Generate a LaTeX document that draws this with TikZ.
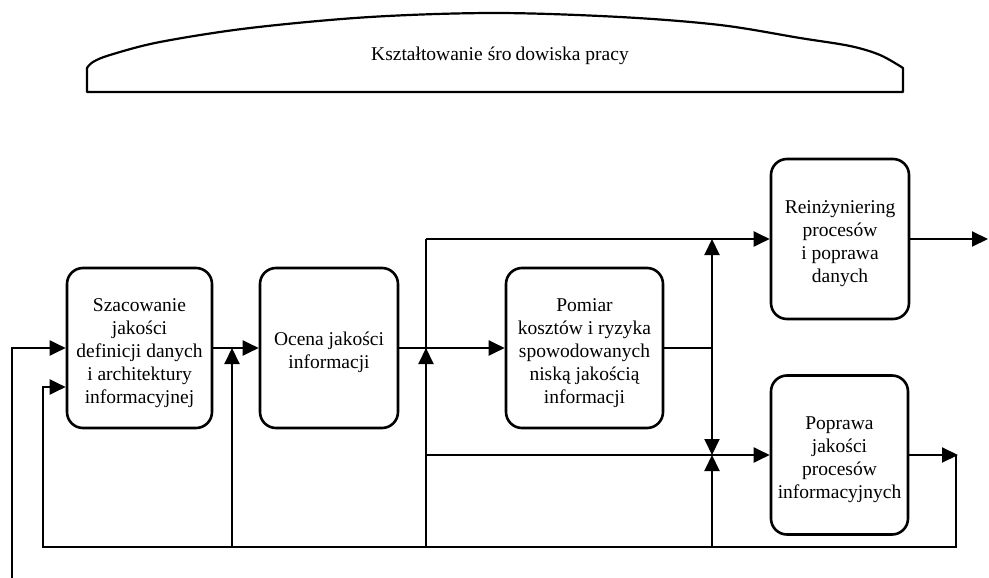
\documentclass[tikz,border=0pt]{standalone}
\usepackage{fontspec}
\setmainfont{Liberation Serif}
\usetikzlibrary{arrows.meta}
\newcommand{\toppad}{\rule{0pt}{23pt}}
\begin{document}
\begin{tikzpicture}[x=1pt,y=-1pt,
  proc/.style={draw, line width=2.6pt, rounded corners=16pt, align=center,
    font=\fontsize{19.5}{23}\selectfont, inner sep=0pt},
  conn/.style={line width=2pt},
  arr/.style={line width=2pt, -{Triangle[length=16pt,width=15pt]}},
  txt/.style={font=\fontsize{19.5}{23}\selectfont}]
\useasboundingbox (0,0) rectangle (989,578);

% top banner
\draw[line width=2.2pt, line join=round]
  plot[smooth, tension=0.55] coordinates {(87,68) (93,62) (110,55) (160,42) (250,28) (370,17) (495,13) (620,17) (720,25) (800,38) (850,46) (880,55) (903,68)}
  -- (903,92) -- (87,92) -- cycle;
\node[txt] (title) at (500,56) {Kształtowanie\hspace{5pt}śro\hspace{4pt}dowiska pracy};

% boxes
\node[proc, minimum width=145pt, minimum height=160pt] (p1) at (139.5,348)
  {\toppad Szacowanie\\jakości\\definicji danych\\i architektury\\informacyjnej};
\node[proc, minimum width=138pt, minimum height=160pt] (p2) at (329,348)
  {\toppad Ocena jakości\\informacji};
\node[proc, minimum width=157pt, minimum height=160pt] (p3) at (584.5,348)
  {\toppad Pomiar\\kosztów i ryzyka\\spowodowanych\\niską jakością\\informacji};
\node[proc, minimum width=138pt, minimum height=160pt] (p4) at (840,239)
  {\toppad Reinżyniering\\procesów\\i poprawa\\danych};
\node[proc, minimum width=137pt, minimum height=159pt] (p5) at (839.5,455)
  {\toppad Poprawa\\jakości\\procesów\\informacyjnych};

% junction coordinates
\coordinate (jA) at (232,348);
\coordinate (bA) at (232,547);
\coordinate (tB) at (426,239);
\coordinate (mB) at (426,348);
\coordinate (lB) at (426,455);
\coordinate (bB) at (426,547);
\coordinate (tC) at (712,239);
\coordinate (mC) at (712,348);
\coordinate (lC) at (712,455);
\coordinate (bC) at (712,547);
\coordinate (outR) at (988,239);
\coordinate (o5) at (958,455);
\coordinate (c5) at (956,455);
\coordinate (c5b) at (956,547);
\coordinate (fbL) at (43,547);
\coordinate (fbT) at (43,387);
\coordinate (inL) at (12,578);
\coordinate (inM) at (12,348);

% connectors
\draw[arr] (inL) -- (inM) -- (p1.west);
\draw[arr] (c5) -- (c5b) -- (fbL) -- (fbT) -- (fbT -| p1.west);
\draw[arr] (p1.east) -- (p2.west);
\draw[arr] (bA) -- (jA);
\draw[arr] (p2.east) -- (p3.west);
\draw[conn] (tB) -- (bB);
\draw[arr] (bB) -- (mB);
\draw[arr] (tB) -- (p4.west);
\draw[arr] (lB) -- (p5.west);
\draw[conn] (p3.east) -- (mC);
\draw[arr] (mC) -- (tC);
\draw[arr] (mC) -- (lC);
\draw[arr] (bC) -- (lC);
\draw[arr] (p4.east) -- (outR);
\draw[arr] (p5.east) -- (o5);
\end{tikzpicture}
\end{document}
